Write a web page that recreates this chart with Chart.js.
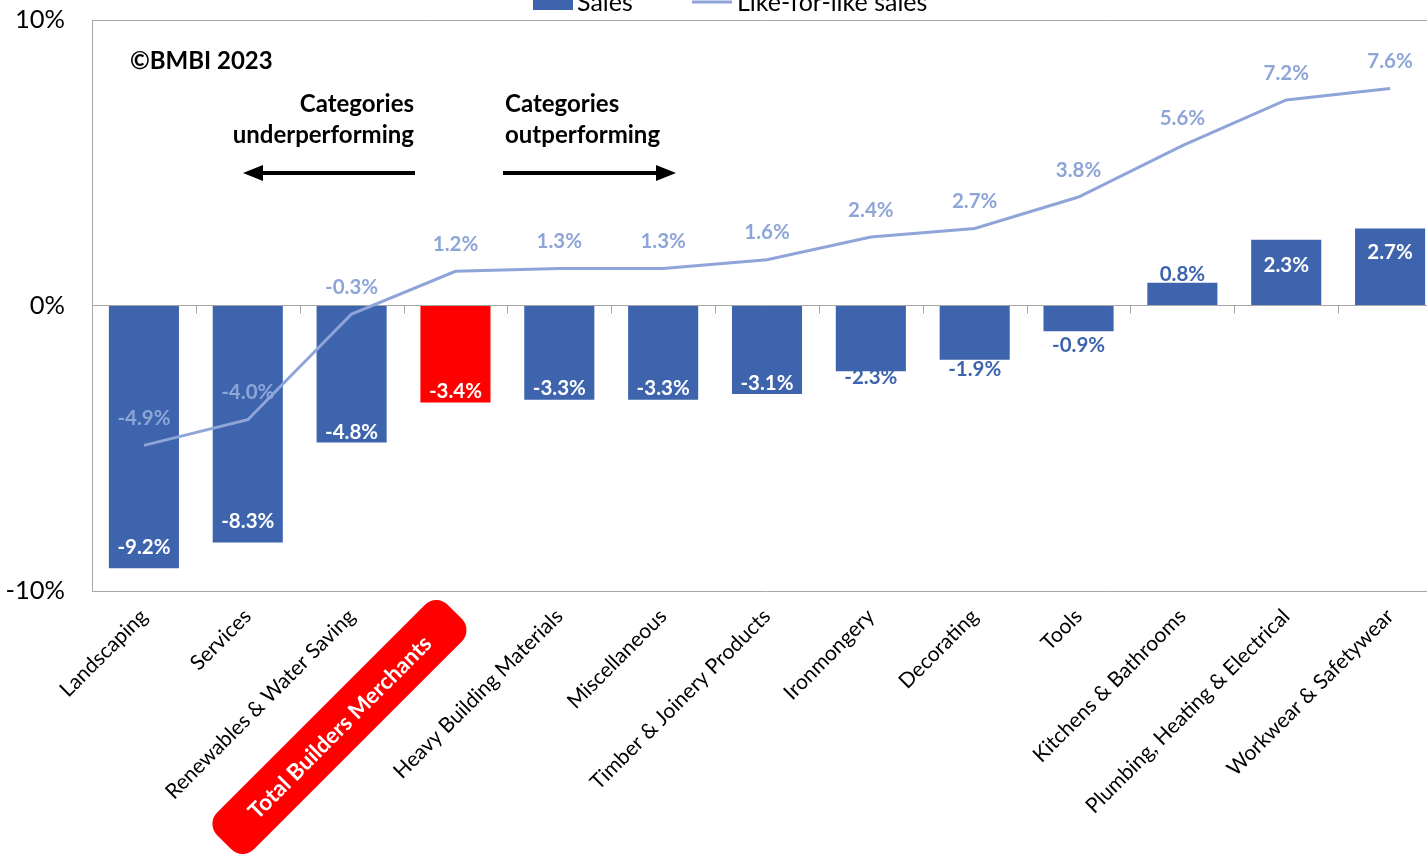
<!DOCTYPE html>
<html>
<head>
<meta charset="utf-8">
<script src="https://cdn.jsdelivr.net/npm/chart.js@4.4.0/dist/chart.umd.min.js"></script>
<style>
  html, body { margin: 0; padding: 0; background: #fff; overflow: hidden; }
  #wrap { position: relative; width: 1442px; height: 856px; }
</style>
</head>
<body>
<div id="wrap"><canvas id="salesChart"></canvas></div>
<script>
// Category sales change vs like-for-like change (%)
const categories = [
    'Landscaping', 'Services', 'Renewables & Water Saving', 'Total Builders Merchants',
    'Heavy Building Materials', 'Miscellaneous', 'Timber & Joinery Products', 'Ironmongery',
    'Decorating', 'Tools', 'Kitchens & Bathrooms', 'Plumbing, Heating & Electrical',
    'Workwear & Safetywear'
];
const salesChange = [-9.2, -8.3, -4.8, -3.4, -3.3, -3.3, -3.1, -2.3, -1.9, -0.9, 0.8, 2.3, 2.7];
const likeForLike = [-4.9, -4.0, -0.3, 1.2, 1.3, 1.3, 1.6, 2.4, 2.7, 3.8, 5.6, 7.2, 7.6];
const yTicks = [-10, 0, 10];
const totalIndex = 3; // the "Total Builders Merchants" bar

const FONT = 'Lato, "Noto Sans", sans-serif';
const BAR_BLUE = '#3D64AD';
const LINE_BLUE = '#8FA4D9';
const GRID_GREY = '#A6A6A6';

// where each sales label sits relative to the end of its bar (px) and its colour
const labelShift = [-21, -21, -10, -11, -11, -11, -11, 6, 10, 14, -8, 26, 24];
const labelOnBar = [true, true, true, true, true, true, true, false, false, false, false, true, true];

const fmt = v => v.toFixed(1) + '%';

// Small tick marks on the zero line between categories
const zeroTicks = {
    id: 'zeroTicks',
    beforeDatasetsDraw(chart) {
        const ctx = chart.ctx;
        const x = chart.scales.x;
        const y0 = chart.scales.y.getPixelForValue(0);
        ctx.save();
        ctx.strokeStyle = GRID_GREY;
        ctx.lineWidth = 1;
        for (let i = 0; i < categories.length - 1; i++) {
            const bx = Math.round((x.getPixelForValue(i) + x.getPixelForValue(i + 1)) / 2) + 0.5;
            ctx.beginPath();
            ctx.moveTo(bx, y0);
            ctx.lineTo(bx, y0 + 8);
            ctx.stroke();
        }
        ctx.restore();
    }
};

// Value labels for bars and line points
const valueLabels = {
    id: 'valueLabels',
    afterDatasetsDraw(chart) {
        const ctx = chart.ctx;
        ctx.save();
        ctx.font = 'bold 20.5px ' + FONT;
        ctx.textAlign = 'center';
        ctx.textBaseline = 'middle';

        chart.getDatasetMeta(1).data.forEach((bar, i) => {
            ctx.fillStyle = labelOnBar[i] ? '#FFFFFF' : BAR_BLUE;
            ctx.fillText(fmt(salesChange[i]), bar.x, bar.y + labelShift[i]);
        });

        ctx.fillStyle = '#8EA5D8';
        chart.getDatasetMeta(0).data.forEach((pt, i) => {
            ctx.fillText(fmt(likeForLike[i]), pt.x, pt.y - 27);
        });
        ctx.restore();
    }
};

// Legend (sits at the very top edge), notes, arrows and the highlighted total label
const extras = {
    id: 'extras',
    afterDraw(chart) {
        const ctx = chart.ctx;
        const area = chart.chartArea;
        ctx.save();

        // legend
        ctx.fillStyle = BAR_BLUE;
        ctx.fillRect(533, -10, 40, 20);
        ctx.strokeStyle = LINE_BLUE;
        ctx.lineWidth = 3;
        ctx.beginPath();
        ctx.moveTo(692, 2);
        ctx.lineTo(732, 2);
        ctx.stroke();
        ctx.fillStyle = '#000';
        ctx.font = '25px ' + FONT;
        ctx.textBaseline = 'alphabetic';
        ctx.textAlign = 'left';
        ctx.fillText(chart.data.datasets[1].label, 577, 11);
        ctx.fillText(chart.data.datasets[0].label, 737, 11);

        // notes
        ctx.font = 'bold 24px ' + FONT;
        ctx.textBaseline = 'middle';
        ctx.fillText('©BMBI 2023', 130, 61);
        ctx.textAlign = 'right';
        ctx.fillText('Categories', 414, 104);
        ctx.fillText('underperforming', 414, 135);
        ctx.textAlign = 'left';
        ctx.fillText('Categories', 505, 104);
        ctx.fillText('outperforming', 505, 135);

        // arrows
        const arrow = (from, to, y) => {
            const dir = Math.sign(to - from);
            ctx.strokeStyle = '#000';
            ctx.lineWidth = 4;
            ctx.beginPath();
            ctx.moveTo(from, y);
            ctx.lineTo(to - dir * 18, y);
            ctx.stroke();
            ctx.fillStyle = '#000';
            ctx.beginPath();
            ctx.moveTo(to, y);
            ctx.lineTo(to - dir * 20, y - 8);
            ctx.lineTo(to - dir * 20, y + 8);
            ctx.closePath();
            ctx.fill();
        };
        arrow(415, 243, 173);
        arrow(503, 676, 173);

        // highlighted category label
        const tx = chart.scales.x.getPixelForValue(totalIndex);
        ctx.translate(tx - 116, area.bottom + 136);
        ctx.rotate(-Math.PI / 4);
        ctx.fillStyle = '#FF0000';
        ctx.beginPath();
        ctx.roundRect(-163, -26, 326, 52, 16);
        ctx.fill();
        ctx.fillStyle = '#FFFFFF';
        ctx.font = 'bold 22.5px ' + FONT;
        ctx.textAlign = 'center';
        ctx.textBaseline = 'middle';
        ctx.fillText(categories[totalIndex], 0, 1);
        ctx.restore();
    }
};

new Chart(document.getElementById('salesChart'), {
    type: 'bar',
    data: {
        labels: categories,
        datasets: [
            {
                type: 'line',
                label: 'Like-for-like sales',
                data: likeForLike,
                borderColor: LINE_BLUE,
                borderWidth: 3,
                pointRadius: 0,
                tension: 0,
                fill: false,
                order: 0
            },
            {
                type: 'bar',
                label: 'Sales',
                data: salesChange,
                backgroundColor: salesChange.map((v, i) => i === totalIndex ? '#FF0000' : BAR_BLUE),
                borderWidth: 0,
                categoryPercentage: 1,
                barPercentage: 0.675,
                order: 1
            }
        ]
    },
    options: {
        responsive: true,
        maintainAspectRatio: false,
        animation: false,
        layout: { padding: { top: 20, left: 0, right: 0, bottom: 0 } },
        plugins: {
            legend: { display: false },
            tooltip: { enabled: false }
        },
        scales: {
            x: {
                grid: { display: false },
                border: { display: false },
                ticks: {
                    autoSkip: false,
                    maxRotation: 45,
                    minRotation: 45,
                    padding: 5,
                    font: { family: FONT, size: 21 },
                    color: c => c.index === totalIndex ? 'rgba(0,0,0,0)' : '#000'
                },
                afterFit: s => { s.height = 265; }
            },
            y: {
                min: -10,
                max: 10,
                afterBuildTicks: s => { s.ticks = yTicks.map(v => ({ value: v })); },
                ticks: {
                    callback: v => v + '%',
                    font: { family: FONT, size: 25.5 },
                    color: '#000',
                    padding: 27
                },
                grid: { color: GRID_GREY, drawTicks: false },
                border: { color: GRID_GREY },
                // fixed axis width; tick padding shouldn't push the plot down
                afterFit: s => {
                    s.width = 92;
                    s.paddingTop = 0;
                    s.paddingBottom = 0;
                }
            }
        }
    },
    plugins: [zeroTicks, valueLabels, extras]
});
</script>
</body>
</html>
